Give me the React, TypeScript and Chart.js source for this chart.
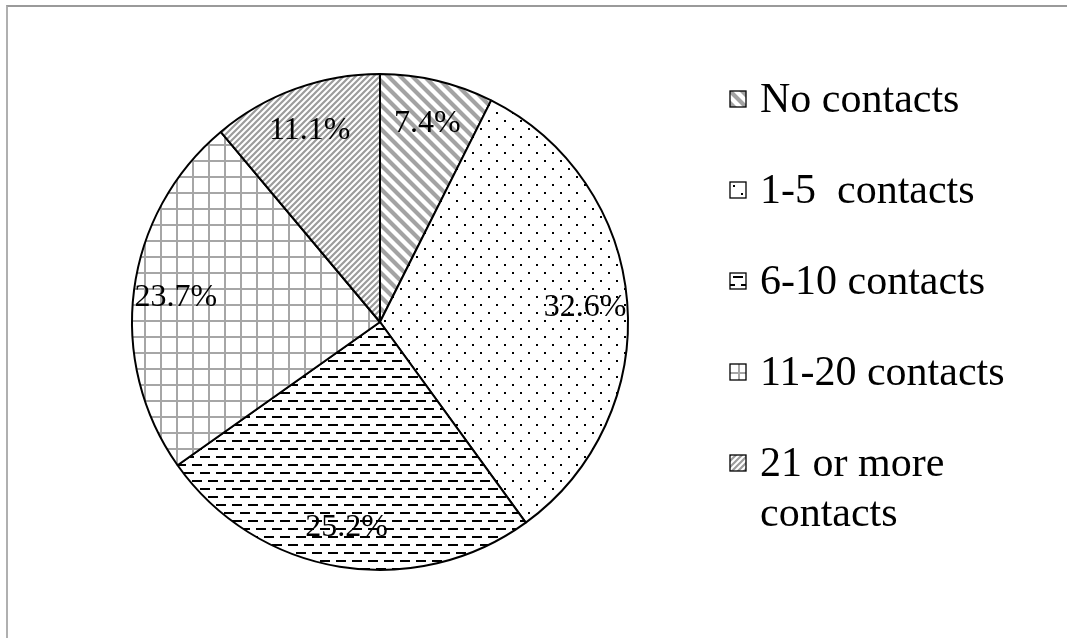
import React, { useEffect, useRef } from "react";
import Chart from "chart.js/auto";

// ---- data ----
const categories = ["No contacts", "1-5  contacts", "6-10 contacts", "11-20 contacts", "21 or more contacts"];
const shares = [7.4, 32.6, 25.2, 23.7, 11.1];
const patternKinds = ["wideDown", "dots", "dashes", "grid", "fineUp"];

// ---- layout / style ----
const W = 1067;
const H = 638;
const FONT = '"Liberation Serif", "Times New Roman", Times, serif';
const LABEL_FONT_PX = 32;
const LEGEND_FONT_PX = 42;
const LABEL_RADIUS = 0.83;
const LEG_BOX_X = 730;
const LEG_BOX = 16;
const LEG_TEXT_X = 760;
const LEG_FIRST_BASELINE = 112;
const LEG_ITEM_GAP = 91;
const LEG_LINE_H = 50;

function makeTile(kind: string): HTMLCanvasElement {
  const c = document.createElement("canvas");
  let s = 16;
  if (kind === "wideDown") s = 12;
  if (kind === "fineUp") s = 6;
  c.width = s;
  c.height = s;
  const g = c.getContext("2d")!;
  g.fillStyle = "#ffffff";
  g.fillRect(0, 0, s, s);
  if (kind === "wideDown") {
    g.strokeStyle = "#a3a3a3";
    g.lineWidth = 4.2;
    g.beginPath();
    for (let k = -2; k <= 2; k++) {
      const a = k * s;
      g.moveTo(a - s, -s);
      g.lineTo(a + 2 * s, 2 * s);
    }
    g.stroke();
  } else if (kind === "fineUp") {
    g.strokeStyle = "#9c9c9c";
    g.lineWidth = 2.2;
    g.beginPath();
    for (let k = -2; k <= 2; k++) {
      const a = k * s;
      g.moveTo(a - s, 2 * s);
      g.lineTo(a + 2 * s, -s);
    }
    g.stroke();
  } else if (kind === "dots") {
    g.fillStyle = "#000";
    g.fillRect(0, 0, 2, 2);
    g.fillRect(8, 8, 2, 2);
  } else if (kind === "dashes") {
    g.fillStyle = "#000";
    g.fillRect(0, 0, 10, 2);
    g.fillRect(8, 8, 8, 2);
    g.fillRect(0, 8, 2, 2);
  } else if (kind === "grid") {
    g.fillStyle = "#a6a6a6";
    g.fillRect(0, 0, 16, 2);
    g.fillRect(0, 0, 2, 16);
  }
  return c;
}

function makePattern(kind: string): CanvasPattern | string {
  const ctx = document.createElement("canvas").getContext("2d");
  const p = ctx ? ctx.createPattern(makeTile(kind), "repeat") : null;
  return p || "#ffffff";
}

function wrapText(ctx: CanvasRenderingContext2D, text: string, maxW: number): string[] {
  const words = text.split(" ");
  const lines: string[] = [];
  let line = words[0];
  for (let i = 1; i < words.length; i++) {
    const test = line + " " + words[i];
    if (ctx.measureText(test).width > maxW && line.trim() !== "" && words[i] !== "") {
      lines.push(line);
      line = words[i];
    } else {
      line = test;
    }
  }
  lines.push(line);
  return lines;
}

const overlayPlugin = {
  id: "overlay",
  afterDatasetsDraw(chart: any) {
    const ctx: CanvasRenderingContext2D = chart.ctx;
    const meta = chart.getDatasetMeta(0);
    ctx.save();
    // percentage labels
    ctx.font = `${LABEL_FONT_PX}px ${FONT}`;
    ctx.fillStyle = "#000";
    ctx.textAlign = "center";
    ctx.textBaseline = "alphabetic";
    meta.data.forEach((arc: any, i: number) => {
      const p = arc.getProps(["x", "y", "startAngle", "endAngle", "outerRadius"], true);
      const mid = (p.startAngle + p.endAngle) / 2;
      const d = p.outerRadius * LABEL_RADIUS;
      ctx.fillText(
        shares[i].toFixed(1) + "%",
        p.x + Math.cos(mid) * d,
        p.y + Math.sin(mid) * d + LABEL_FONT_PX * 0.33
      );
    });
    // legend
    ctx.font = `${LEGEND_FONT_PX}px ${FONT}`;
    ctx.textAlign = "left";
    let baseline = LEG_FIRST_BASELINE;
    categories.forEach((cat, i) => {
      const top = baseline - 21;
      const pat = makePattern(patternKinds[i]);
      if (typeof pat !== "string" && (pat as any).setTransform) {
        const off = patternKinds[i] === "grid" ? 8 : 3;
        pat.setTransform(new DOMMatrix().translate(LEG_BOX_X + off, top + off));
      }
      ctx.fillStyle = pat as any;
      ctx.fillRect(LEG_BOX_X, top, LEG_BOX, LEG_BOX);
      ctx.strokeStyle = "#000";
      ctx.lineWidth = 1.3;
      ctx.strokeRect(LEG_BOX_X, top, LEG_BOX, LEG_BOX);
      ctx.fillStyle = "#000";
      const lines = wrapText(ctx, cat, W - LEG_TEXT_X - 10);
      lines.forEach((ln, j) => ctx.fillText(ln, LEG_TEXT_X, baseline + j * LEG_LINE_H));
      baseline += LEG_ITEM_GAP + (lines.length - 1) * LEG_LINE_H;
    });
    ctx.restore();
  },
};

export default function App() {
  const ref = useRef<HTMLCanvasElement | null>(null);
  useEffect(() => {
    if (!ref.current) return;
    const chart = new Chart(ref.current, {
      type: "pie",
      data: {
        labels: categories,
        datasets: [
          {
            data: shares,
            backgroundColor: patternKinds.map((k) => makePattern(k)) as any,
            borderColor: "#000000",
            borderWidth: 2,
            hoverOffset: 0,
          },
        ],
      },
      options: {
        responsive: false,
        animation: false,
        events: [],
        layout: { padding: { top: 73, bottom: 67, left: 131, right: 438 } },
        plugins: {
          legend: { display: false },
          tooltip: { enabled: false },
          title: { display: false },
        },
      },
      plugins: [overlayPlugin],
    });
    return () => chart.destroy();
  }, []);

  return (
    <div style={{ position: "fixed", left: 0, top: 0, width: W, height: H, background: "#fff", overflow: "hidden" }}>
      <div
        style={{
          position: "absolute",
          left: 6,
          top: 5,
          width: W + 20,
          height: H + 20,
          borderTop: "2px solid #9a9a9a",
          borderLeft: "2px solid #b0b0b0",
          boxSizing: "border-box",
        }}
      />
      <canvas ref={ref} width={W} height={H} style={{ position: "absolute", left: 0, top: 0 }} />
    </div>
  );
}
